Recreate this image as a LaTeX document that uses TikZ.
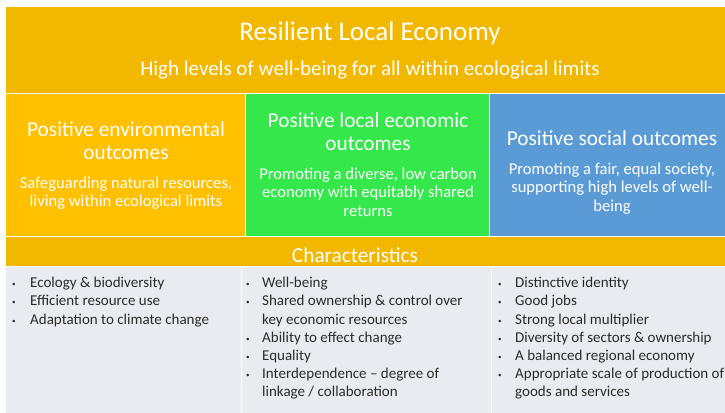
\documentclass[tikz,border=0pt]{standalone}
\usepackage{fontspec}
\setmainfont{Carlito}
\definecolor{gold}{HTML}{F2B800}
\definecolor{amber}{HTML}{FFC000}
\definecolor{leaf}{HTML}{34E84C}
\definecolor{sky}{HTML}{5B9BD5}
\definecolor{cell}{HTML}{E9EBF0}
\definecolor{ink}{HTML}{2B2B2B}
\newlength{\bulw}
\newcommand{\bl}[1]{\makebox[\bulw][l]{\raisebox{1pt}{\scriptsize\textbullet}}#1}
\newcommand{\cont}[1]{\hspace*{\bulw}#1}
\tikzset{
  panel/.style={anchor=north west, inner sep=0, outer sep=0, draw=white, line width=0.8pt},
  heading/.style={text=white, align=center, font=\fontsize{21.3}{23}\selectfont},
  subtext/.style={text=white, align=center, font=\fontsize{16.6}{18.5}\selectfont},
  bullets/.style={text=ink, align=left, anchor=north west, inner sep=0, font=\fontsize{15}{18.2}\selectfont}
}
\begin{document}
\begin{tikzpicture}[x=1pt,y=-1pt]
\useasboundingbox (0,0) rectangle (725,412);
\fill[white] (0,0) rectangle (725,412);
% top banner
\node[panel, fill=gold, minimum width=735pt, minimum height=87pt] (banner) at (5,6) {};
\node[text=white, font=\fontsize{27}{31}\selectfont] (title) at (370,33) {Resilient Local Economy};
\node[text=white, font=\fontsize{21}{25}\selectfont] (subtitle) at (370,70) {High levels of well-being for all within ecological limits};
% outcome boxes
\node[panel, fill=amber, minimum width=240pt, minimum height=143pt] (env) at (5,93) {};
\node[panel, fill=leaf, minimum width=244pt, minimum height=143pt] (econ) at (245,93) {};
\node[panel, fill=sky, minimum width=240pt, minimum height=143pt] (soc) at (489,93) {};
\node[heading] (envh) at (126,141) {Positive environmental\\outcomes};
\node[subtext] (envs) at (126,193) {Safeguarding natural resources,\\living within ecological limits};
\node[heading] (econh) at (368,132) {Positive local economic\\outcomes};
\node[subtext] (econs) at (368,192) {Promoting a diverse, low carbon\\economy with equitably shared\\returns};
\node[heading] (soch) at (612,138) {Positive social outcomes};
\node[subtext] (socs) at (612,188.5) {Promoting a fair, equal society,\\supporting high levels of well-\\being};
% characteristics bar
\node[panel, fill=gold, minimum width=735pt, minimum height=30pt] (charbar) at (5,236) {};
\node[text=white, font=\fontsize{21.3}{24}\selectfont] (chart) at (355,255) {Characteristics};
% characteristic cells
\node[panel, fill=cell, minimum width=236pt, minimum height=150pt] (c1) at (5,266) {};
\node[panel, fill=cell, minimum width=250pt, minimum height=150pt] (c2) at (241,266) {};
\node[panel, fill=cell, minimum width=240pt, minimum height=150pt] (c3) at (491,266) {};
\global\bulw=18pt
\node[bullets] (l1) at (12,277) {\bl{Ecology \& biodiversity}\\\bl{Efficient resource use}\\\bl{Adaptation to climate change}};
\global\bulw=16pt
\node[bullets] (l2) at (246,277) {\bl{Well-being}\\\bl{Shared ownership \& control over}\\\cont{key economic resources}\\\bl{Ability to effect change}\\\bl{Equality}\\\bl{Interdependence -- degree of}\\\cont{linkage / collaboration}};
\global\bulw=17pt
\node[bullets] (l3) at (498,277) {\bl{Distinctive identity}\\\bl{Good jobs}\\\bl{Strong local multiplier}\\\bl{Diversity of sectors \& ownership}\\\bl{A balanced regional economy}\\\bl{Appropriate scale of production of}\\\cont{goods and services}};
\end{tikzpicture}
\end{document}
